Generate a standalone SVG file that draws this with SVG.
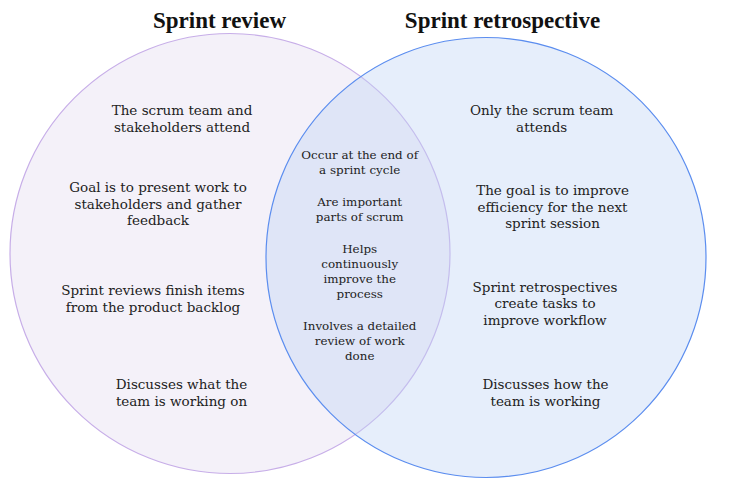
<svg xmlns="http://www.w3.org/2000/svg" width="730" height="487" viewBox="0 0 730 487">
<style>
.title{font-family:"Liberation Serif","Times New Roman",serif;font-weight:bold;font-size:23px;fill:#111;text-anchor:middle}
.t{font-family:"DejaVu Serif",serif;font-size:13.5px;fill:#222;text-anchor:middle}
.m{font-family:"DejaVu Serif",serif;font-size:11.9px;fill:#222;text-anchor:middle}
</style>
<rect width="730" height="487" fill="#ffffff"/>
<g id="left-circle">
<circle cx="230" cy="253.5" r="220" fill="#f4f1f9" stroke="#c7aee8" stroke-width="1.2"/>
</g>
<g id="right-circle">
<circle cx="486" cy="257.5" r="220" fill="#c0d4f5" fill-opacity="0.4" stroke="#5b8def" stroke-width="1.2"/>
</g>
<g id="titles">
<text class="title" x="219.5" y="28">Sprint review</text>
<text class="title" x="502.5" y="28">Sprint retrospective</text>
</g>
<g id="left-items">
<text class="t" x="182" y="115">The scrum team and</text>
<text class="t" x="182" y="131.7">stakeholders attend</text>
<text class="t" x="158" y="192">Goal is to present work to</text>
<text class="t" x="158" y="208.7">stakeholders and gather</text>
<text class="t" x="158" y="225.4">feedback</text>
<text class="t" x="153" y="295">Sprint reviews finish items</text>
<text class="t" x="153" y="311.7">from the product backlog</text>
<text class="t" x="181.5" y="389">Discusses what the</text>
<text class="t" x="181.5" y="405.7">team is working on</text>
</g>
<g id="right-items">
<text class="t" x="541.7" y="115">Only the scrum team</text>
<text class="t" x="541.7" y="131.7">attends</text>
<text class="t" x="552.5" y="195">The goal is to improve</text>
<text class="t" x="552.5" y="211.7">efficiency for the next</text>
<text class="t" x="552.5" y="228.4">sprint session</text>
<text class="t" x="545" y="291.7">Sprint retrospectives</text>
<text class="t" x="545" y="308.4">create tasks to</text>
<text class="t" x="545" y="325.1">improve workflow</text>
<text class="t" x="545.5" y="389">Discusses how the</text>
<text class="t" x="545.5" y="405.7">team is working</text>
</g>
<g id="shared-items">
<text class="m" x="359.7" y="159.3">Occur at the end of</text>
<text class="m" x="359.7" y="174.3">a sprint cycle</text>
<text class="m" x="359.7" y="206">Are important</text>
<text class="m" x="359.7" y="221">parts of scrum</text>
<text class="m" x="359.7" y="252.7">Helps</text>
<text class="m" x="359.7" y="267.7">continuously</text>
<text class="m" x="359.7" y="282.7">improve the</text>
<text class="m" x="359.7" y="297.7">process</text>
<text class="m" x="359.7" y="330">Involves a detailed</text>
<text class="m" x="359.7" y="345">review of work</text>
<text class="m" x="359.7" y="360">done</text>
</g>
</svg>
